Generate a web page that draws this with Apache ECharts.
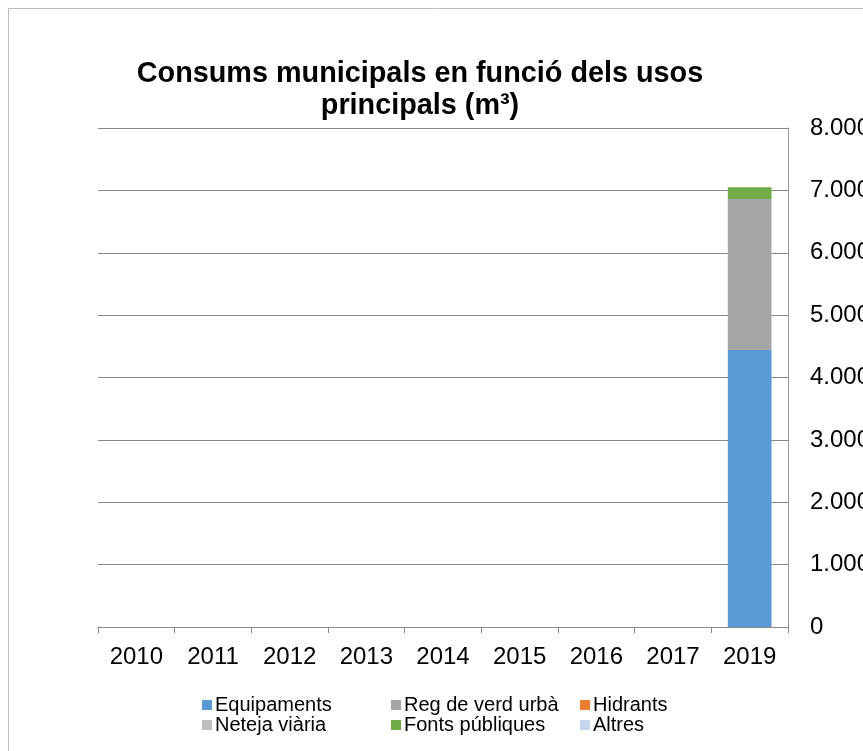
<!DOCTYPE html>
<html><head><meta charset="utf-8">
<script src="https://cdn.jsdelivr.net/npm/echarts@6/dist/echarts.min.js"></script>
<style>html,body{margin:0;padding:0;background:#fff}#c{width:863px;height:751px}</style>
</head><body><div id="c"></div>
<script>
const categories = ['2010','2011','2012','2013','2014','2015','2016','2017','2019'];
const equipaments = [null,null,null,null,null,null,null,null,4440];
const regVerd = [null,null,null,null,null,null,null,null,2420];
const hidrants = [null,null,null,null,null,null,null,null,0];
const neteja = [null,null,null,null,null,null,null,null,0];
const fonts = [null,null,null,null,null,null,null,null,190];
const altres = [null,null,null,null,null,null,null,null,0];
const yTicks = [0,1000,2000,3000,4000,5000,6000,7000,8000];

const seriesDefs = [
  ['Equipaments', equipaments, '#5B9BD5'],
  ['Reg de verd urbà', regVerd, '#A5A5A5'],
  ['Hidrants', hidrants, '#ED7D31'],
  ['Neteja viària', neteja, '#BFBFBF'],
  ['Fonts públiques', fonts, '#70AD47'],
  ['Altres', altres, '#C5D5EB']
];
const FONT = 'Liberation Sans, Arial, sans-serif';
const chart = echarts.init(document.getElementById('c'));
function legendCol(left, names){
  return {left: left, top: 695, orient: 'vertical', itemWidth: 10, itemHeight: 10, itemGap: 0,
    icon: 'rect', data: names, textStyle: {fontFamily: FONT, fontSize: 20, lineHeight: 19, color: '#000', padding: [0,0,0,-2]},
    selectedMode: false, padding: 0};
}
chart.setOption({
  animation: false,
  title: {text: 'Consums municipals en funció dels usos\nprincipals (m³)', left: 415, textAlign: 'center', top: 53,
    textStyle: {fontFamily: FONT, fontSize: 28.8, fontWeight: 'bold', color: '#000', lineHeight: 32}},
  graphic: [{type: 'rect', shape: {x: 8.5, y: 8.5, width: 1000, height: 1000}, style: {fill: 'none', stroke: '#BDBDBD', lineWidth: 1}, silent: true, z: -10}],
  legend: [
    legendCol(202, ['Equipaments','Neteja viària']),
    legendCol(391, ['Reg de verd urbà','Fonts públiques']),
    legendCol(580, ['Hidrants','Altres'])
  ],
  grid: {left: 98, right: 75, top: 128, bottom: 124, containLabel: false, outerBoundsMode: 'none'},
  xAxis: {type: 'category', data: categories,
    axisLine: {lineStyle: {color: '#888', width: 1}},
    axisTick: {show: true, length: 6, lineStyle: {color: '#888'}},
    axisLabel: {fontFamily: FONT, fontSize: 24, color: '#000', margin: 18}},
  yAxis: {type: 'value', position: 'right', min: 0, max: 8000, interval: 1000,
    axisLine: {show: true, lineStyle: {color: '#999'}},
    axisTick: {show: false},
    splitLine: {lineStyle: {color: '#888'}},
    axisLabel: {fontFamily: FONT, fontSize: 24, color: '#000', margin: 22,
      formatter: v => yTicks.includes(v) ? (v === 0 ? '0' : (v/1000) + '.000') : ''}},
  series: seriesDefs.map(([name, data, color]) => ({
    name, type: 'bar', stack: 'total', data, barWidth: '57%',
    itemStyle: {color}
  }))
});
</script></body></html>
